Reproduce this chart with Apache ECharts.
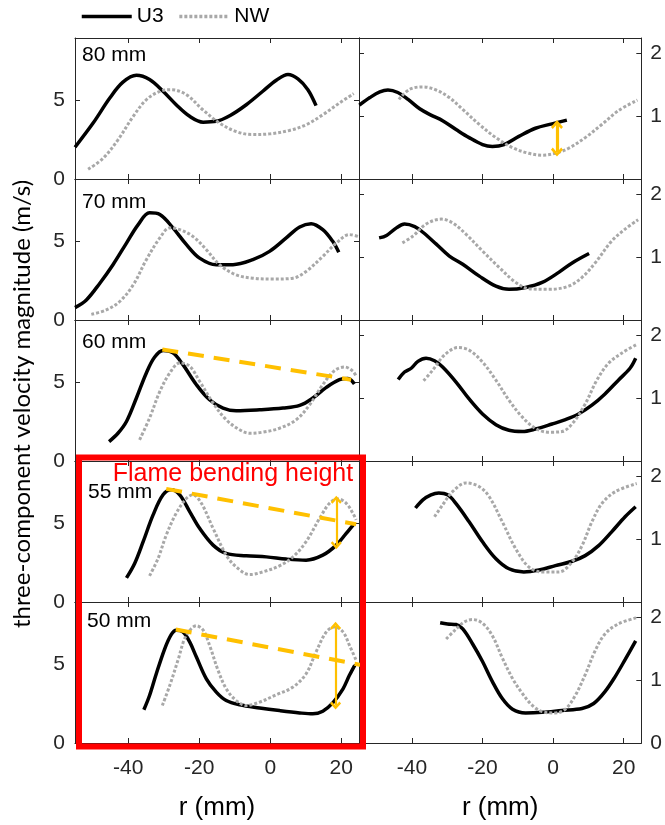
<!DOCTYPE html>
<html><head><meta charset="utf-8">
<script src="https://cdn.jsdelivr.net/npm/echarts@6/dist/echarts.min.js"></script>
<style>html,body{margin:0;padding:0;background:#fff}#c{width:665px;height:825px}</style>
</head><body><div id="c"></div>
<script>
// ---------- data ----------
const xTicks = [-40, -20, 0, 20];
const leftTicks = [0, 5];
const rightTicks = [1, 2];
const rightTicksBottom = [0, 1, 2];
const heightLabels = ['80 mm', '70 mm', '60 mm', '55 mm', '50 mm'];
const seriesNames = ['U3', 'NW'];

// left column (0-9 m/s)
const u3L80 = [[-55,2.03],[-49.9,3.57],[-45.2,5.17],[-41.5,6.18],[-37.7,6.62],[-34.0,6.35],[-30.2,5.6],[-26.5,4.74],[-22.7,4.0],[-18.9,3.63],[-15.2,3.68],[-11.4,4.04],[-6.75,4.74],[-2.1,5.6],[1.7,6.3],[5.0,6.67],[7.8,6.39],[10.6,5.7],[12.9,4.68]];
const nwL80 = [[-51.3,0.62],[-47.1,1.32],[-42.9,2.5],[-38.6,4.0],[-34.9,5.06],[-31.1,5.6],[-27.9,5.7],[-23.6,5.38],[-19.0,4.42],[-14.3,3.57],[-9.6,3.03],[-5.3,2.84],[-0.2,2.88],[5.4,3.1],[10.1,3.46],[14.8,4.1],[19.5,4.85],[23.5,5.45]];
const u3L70 = [[-55,0.79],[-51.8,1.28],[-48.0,2.35],[-44.3,3.53],[-40.5,4.91],[-37.2,6.09],[-34.0,6.84],[-31.1,6.73],[-27.4,5.88],[-23.6,4.81],[-19.9,3.95],[-15.2,3.53],[-10.5,3.53],[-4.9,3.85],[-0.2,4.38],[4.5,5.24],[8.3,5.94],[11.5,6.15],[14.8,5.77],[17.6,5.02],[19.3,4.32]];
const nwL70 = [[-50.4,0.36],[-46.2,0.64],[-42.4,1.18],[-38.6,2.24],[-34.9,3.85],[-31.1,5.24],[-28.3,5.88],[-25.5,5.77],[-21.8,5.34],[-18.0,4.49],[-14.3,3.53],[-9.6,2.88],[-4.9,2.67],[0.75,2.61],[6.4,2.67],[10.1,3.1],[14.8,4.06],[18.6,4.91],[22.3,5.45],[24.7,5.34]];
const u3L60 = [[-45.4,1.24],[-42.9,1.77],[-40.5,2.52],[-37.7,4.02],[-34.9,5.62],[-32.6,6.62],[-30.2,7.05],[-27.4,6.9],[-24.6,6.15],[-20.8,4.87],[-17.1,3.91],[-13.3,3.38],[-9.6,3.21],[-3.0,3.27],[3.6,3.38],[8.3,3.55],[12.0,4.02],[15.8,4.70],[19.5,5.19],[21.9,5.26],[23.7,4.91]];
const nwL60 = [[-36.8,1.35],[-34.0,2.74],[-31.1,4.44],[-28.3,5.62],[-25.5,6.26],[-22.7,6.05],[-19.9,5.09],[-16.1,3.70],[-12.4,2.63],[-8.6,1.99],[-5.8,1.77],[-2.1,1.84],[2.6,2.09],[7.3,2.63],[11.1,3.59],[14.8,4.87],[18.1,5.77],[20.9,6.0],[23.3,5.73],[24.2,5.4]];
const u3L55 = [[-40.5,1.54],[-38.2,2.46],[-35.8,3.85],[-33.0,5.56],[-30.2,6.84],[-27.9,7.16],[-25.5,6.84],[-22.7,5.77],[-19.9,4.70],[-16.1,3.63],[-12.4,3.10],[-6.75,2.95],[-1.1,2.88],[4.5,2.74],[10.1,2.67],[14.8,2.99],[18.6,3.63],[21.4,4.38],[23.5,4.96]];
const nwL55 = [[-34.0,1.67],[-31.6,2.78],[-29.3,4.27],[-26.5,5.66],[-23.6,6.62],[-21.8,6.84],[-19.4,6.30],[-16.1,4.70],[-12.4,2.99],[-9.6,2.24],[-5.8,1.75],[-2.1,1.92],[2.6,2.31],[6.4,2.88],[10.1,3.85],[13.9,5.34],[16.7,6.30],[19.1,6.58],[21.4,6.30],[23.3,5.66],[24.2,5.24]];
const u3L50 = [[-35.6,2.12],[-34.0,3.03],[-32.1,4.42],[-29.7,6.03],[-27.9,6.92],[-26.5,7.2],[-24.6,7.09],[-22.7,6.45],[-20.8,5.49],[-18.0,4.10],[-15.2,3.25],[-12.4,2.71],[-8.6,2.44],[-3.0,2.24],[2.6,2.07],[8.3,1.92],[12.0,1.86],[14.8,2.03],[17.6,2.56],[20.5,3.46],[22.3,4.32],[23.8,4.96]];
const nwL50 = [[-30.4,2.39],[-28.3,3.68],[-26.0,5.28],[-24.1,6.67],[-22.2,7.31],[-20.8,7.48],[-18.9,7.2],[-17.1,6.24],[-14.7,4.64],[-12.4,3.46],[-9.6,2.71],[-6.75,2.39],[-3.0,2.61],[1.7,3.08],[6.4,3.57],[10.1,4.42],[12.9,5.81],[15.8,7.09],[18.1,7.41],[20.5,7.09],[22.3,6.24],[24.2,5.28]];

// right column (0-2.25)
const u3R80 = [[-54.9,1.18],[-51.9,1.30],[-49.1,1.39],[-46.8,1.42],[-44.0,1.38],[-41.1,1.27],[-37.8,1.12],[-34.6,1.02],[-31.3,0.93],[-27.5,0.79],[-23.8,0.66],[-20.0,0.55],[-17.2,0.52],[-13.9,0.55],[-9.7,0.68],[-5.0,0.81],[-0.3,0.88],[3.9,0.94]];
const nwR80 = [[-43.7,1.27],[-40.7,1.43],[-36.9,1.47],[-33.1,1.42],[-29.4,1.30],[-25.6,1.11],[-20.9,0.87],[-16.2,0.66],[-11.5,0.50],[-6.9,0.41],[-3.1,0.38],[0.66,0.41],[4.4,0.49],[9.1,0.66],[13.8,0.87],[18.5,1.09],[23.9,1.26]];
const u3R70 = [[-49.3,1.31],[-47.2,1.35],[-44.4,1.47],[-42.1,1.53],[-39.2,1.49],[-36.9,1.40],[-33.1,1.21],[-29.4,1.02],[-25.6,0.89],[-20.9,0.70],[-16.2,0.54],[-12.5,0.49],[-7.8,0.52],[-3.1,0.60],[1.6,0.76],[5.4,0.91],[10.2,1.06]];
const nwR70 = [[-42.7,1.23],[-39.7,1.34],[-36.0,1.53],[-31.7,1.61],[-28.5,1.55],[-24.7,1.37],[-20.0,1.10],[-15.3,0.84],[-10.6,0.60],[-6.9,0.50],[-1.2,0.49],[4.4,0.54],[8.2,0.68],[11.9,0.91],[16.6,1.26],[20.4,1.45],[24.1,1.60]];
const u3R60 = [[-43.9,1.30],[-42.1,1.42],[-40.2,1.48],[-38.3,1.59],[-36.0,1.64],[-33.6,1.60],[-31.3,1.50],[-27.5,1.26],[-23.8,0.99],[-20.0,0.75],[-16.2,0.58],[-12.5,0.49],[-8.7,0.47],[-5.0,0.51],[-0.3,0.59],[3.5,0.66],[7.2,0.75],[11.0,0.89],[14.7,1.07],[18.5,1.29],[21.8,1.48],[23.4,1.64]];
const nwR60 = [[-36.7,1.28],[-34.1,1.45],[-30.8,1.69],[-27.0,1.81],[-23.8,1.77],[-20.0,1.58],[-16.2,1.29],[-12.5,0.97],[-8.7,0.70],[-5.0,0.52],[-1.2,0.46],[2.5,0.47],[5.8,0.62],[9.1,0.91],[12.4,1.29],[15.7,1.56],[19.4,1.72],[23.7,1.86]];
const u3R55 = [[-39.0,1.50],[-36.9,1.63],[-34.6,1.71],[-32.4,1.74],[-29.9,1.71],[-27.5,1.57],[-23.8,1.28],[-20.0,0.96],[-16.2,0.69],[-12.5,0.53],[-8.3,0.48],[-4.0,0.51],[0.66,0.58],[5.4,0.65],[9.1,0.74],[12.9,0.90],[16.6,1.12],[20.4,1.36],[23.4,1.52]];
const nwR55 = [[-33.6,1.36],[-31.3,1.55],[-28.5,1.76],[-24.7,1.90],[-20.9,1.84],[-18.1,1.68],[-14.4,1.28],[-10.6,0.85],[-6.9,0.56],[-3.1,0.48],[1.6,0.48],[5.4,0.64],[8.2,0.90],[11.0,1.28],[13.8,1.57],[17.6,1.76],[23.7,1.89]];
const u3R50 = [[-32.0,1.92],[-29.9,1.90],[-27.5,1.89],[-25.6,1.82],[-22.8,1.58],[-20.0,1.30],[-17.2,0.98],[-14.4,0.71],[-11.5,0.54],[-7.8,0.48],[-3.1,0.49],[2.5,0.52],[8.2,0.55],[11.5,0.63],[14.7,0.82],[17.6,1.06],[20.4,1.33],[23.4,1.63]];
const nwR50 = [[-30.3,1.66],[-28.0,1.79],[-25.2,1.93],[-22.8,1.97],[-20.0,1.91],[-17.2,1.71],[-14.4,1.36],[-11.5,1.03],[-8.7,0.79],[-5.9,0.60],[-3.1,0.50],[0.66,0.48],[3.5,0.54],[6.3,0.76],[9.1,1.09],[11.9,1.47],[14.7,1.74],[18.5,1.90],[23.7,2.0]];

// annotations (data coordinates)
const bendLine60 = [[-30.4,7.12],[22.8,5.19]];
const bendLine55 = [[-29.3,7.22],[24.2,4.96]];
const bendLine50 = [[-26.6,7.24],[26.1,4.96]];
const arrow80R = [[1.1,0.87],[1.1,0.43]];
const arrow55 = [[18.6,6.52],[18.6,3.63]];
const arrow50 = [[18.4,7.48],[18.4,2.39]];

const leftData = [[u3L80,nwL80],[u3L70,nwL70],[u3L60,nwL60],[u3L55,nwL55],[u3L50,nwL50]];
const rightData = [[u3R80,nwR80],[u3R70,nwR70],[u3R60,nwR60],[u3R55,nwR55],[u3R50,nwR50]];

// ---------- chart ----------
const FONT = '"Liberation Sans", Arial, sans-serif';
const AX = '#262626';
const ORANGE = '#FFC000';
const CHEV = 'path://M10,0 L20,10 L17,13 L10,6 L3,13 L0,10 Z';

const grids = [], xAxes = [], yAxes = [], series = [];
function axisCommon() {
  return {
    axisLine: { show: true, onZero: false, lineStyle: { color: AX, width: 1 } },
    splitLine: { show: false }
  };
}
for (let r = 0; r < 5; r++) {
  for (let c = 0; c < 2; c++) {
    const g = grids.length;
    const top = 38 + r * 141;
    grids.push({ left: c === 0 ? 75 : 359, top: top, width: c === 0 ? 284 : 283, height: 141 });
    const bottomRow = r === 4;
    xAxes.push(Object.assign(axisCommon(), {
      gridIndex: g, type: 'value', min: -55, max: 25, position: 'bottom',
      axisTick: { show: true, inside: true, length: 5, customValues: xTicks, lineStyle: { color: AX } },
      axisLabel: { show: bottomRow, customValues: xTicks, fontSize: 21, color: AX, margin: 15, fontFamily: FONT },
      name: bottomRow ? 'r (mm)' : '', nameLocation: 'middle', nameGap: 52,
      nameTextStyle: { fontSize: 26, color: '#000', fontFamily: FONT }
    }));
    xAxes.push(Object.assign(axisCommon(), {
      gridIndex: g, type: 'value', min: -55, max: 25, position: 'top',
      axisTick: { show: true, inside: true, length: 5, customValues: xTicks, lineStyle: { color: AX } },
      axisLabel: { show: false }
    }));
    const isLeft = c === 0;
    const yMax = isLeft ? 9 : 2.25;
    const tickVals = isLeft ? leftTicks : rightTicksBottom;
    const labelVals = isLeft ? leftTicks : (bottomRow ? rightTicksBottom : rightTicks);
    yAxes.push(Object.assign(axisCommon(), {
      gridIndex: g, type: 'value', min: 0, max: yMax, position: isLeft ? 'left' : 'right',
      axisTick: { show: true, inside: true, length: 5, customValues: tickVals, lineStyle: { color: AX } },
      axisLabel: { show: true, customValues: labelVals, fontSize: 21, color: AX, margin: isLeft ? 10 : 9, fontFamily: FONT }
    }));
    yAxes.push(Object.assign(axisCommon(), {
      gridIndex: g, type: 'value', min: 0, max: yMax, position: isLeft ? 'right' : 'left',
      axisTick: { show: true, inside: true, length: 5, customValues: tickVals, lineStyle: { color: AX } },
      axisLabel: { show: false }
    }));
    const pair = isLeft ? leftData[r] : rightData[r];
    series.push({
      type: 'line', name: seriesNames[0], xAxisIndex: 2 * g, yAxisIndex: 2 * g,
      data: pair[0], symbol: 'none', showSymbol: false, smooth: 0.35, z: 2,
      lineStyle: { color: '#000', width: 3.5 }, itemStyle: { color: '#000' }
    });
    series.push({
      type: 'line', name: seriesNames[1], xAxisIndex: 2 * g, yAxisIndex: 2 * g,
      data: pair[1], symbol: 'none', showSymbol: false, smooth: 0.35, z: 3,
      lineStyle: { color: '#a8a8a8', width: 3, type: [3, 2] }, itemStyle: { color: '#a8a8a8' }
    });
  }
}
function bendSeries(g, data, arrow) {
  const s = {
    type: 'line', name: 'bend', xAxisIndex: 2 * g, yAxisIndex: 2 * g, data: data,
    symbol: 'none', showSymbol: false, clip: false, silent: true, z: 6,
    lineStyle: { color: ORANGE, width: 4, type: [16, 10] }, itemStyle: { color: ORANGE }
  };
  if (arrow) s.markLine = arrowMark(arrow, 2.2, [11, 8]);
  return s;
}
function arrowMark(a, w, size) {
  return {
    silent: true, animation: false, symbol: [CHEV, CHEV], symbolSize: size, z: 7,
    label: { show: false }, emphasis: { disabled: true },
    lineStyle: { color: ORANGE, width: w, type: 'solid' },
    data: [[{ coord: a[0] }, { coord: a[1] }]]
  };
}
series.push(bendSeries(4, bendLine60, null));
series.push(bendSeries(6, bendLine55, arrow55));
series.push(bendSeries(8, bendLine50, arrow50));
// arrow in the 80 mm right panel: attach to an invisible 2-point series
series.push({
  type: 'line', name: 'arrow', xAxisIndex: 2, yAxisIndex: 2, data: arrow80R,
  symbol: 'none', showSymbol: false, silent: true, z: 6,
  lineStyle: { opacity: 0 }, markLine: arrowMark(arrow80R, 3.2, [12, 9])
});

const hlPos = [[82, 55], [82, 202], [82, 342], [88, 492], [87, 621]];
const graphic = heightLabels.map((t, i) => ({
  type: 'text', z: 50, x: hlPos[i][0], y: hlPos[i][1],
  style: { text: t, fontSize: 21, fontFamily: FONT, fill: '#000', verticalAlign: 'middle' }
}));
graphic.push({
  type: 'text', z: 50, x: 233, y: 474,
  style: { text: 'Flame bending height', fontSize: 25, fontFamily: FONT, fill: '#FF0000', align: 'center', verticalAlign: 'middle' }
});
graphic.push({
  type: 'rect', z: 60, shape: { x: 79, y: 457.5, width: 284, height: 289 },
  style: { fill: 'none', stroke: '#FF0000', lineWidth: 6 }
});
graphic.push({
  type: 'text', z: 50, x: 22, y: 404, rotation: Math.PI / 2,
  style: { text: 'three-component velocity magnitude (m/s)', fontSize: 24, fontFamily: 'Lato, "Open Sans", sans-serif', fill: '#000', align: 'center', verticalAlign: 'middle' }
});

const chart = echarts.init(document.getElementById('c'), null, { renderer: 'canvas' });
chart.setOption({
  animation: false,
  backgroundColor: '#fff',
  legend: {
    data: seriesNames, left: 75, top: 1, itemWidth: 50, itemHeight: 14, itemGap: 14,
    itemStyle: { opacity: 0 },
    lineStyle: { width: 3.5 },
    textStyle: { fontSize: 21, color: '#000', fontFamily: FONT }
  },
  grid: grids, xAxis: xAxes, yAxis: yAxes, series: series, graphic: graphic
});
</script></body></html>
